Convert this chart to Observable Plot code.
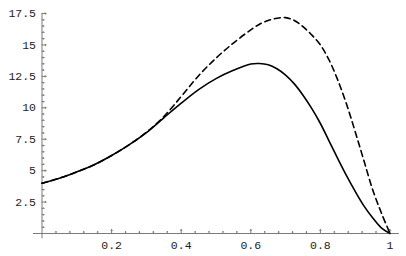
<!DOCTYPE html>
<html><head><meta charset="utf-8">
<script src="https://cdn.jsdelivr.net/npm/d3@7"></script>
<script src="https://cdn.jsdelivr.net/npm/@observablehq/plot@0.6"></script>
<style>html,body{margin:0;padding:0;background:#fff}</style>
</head><body><div id="chart"></div>
<script>
const xValues      = [0, 0.05, 0.1, 0.15, 0.2, 0.25, 0.3, 0.35, 0.4, 0.45, 0.5, 0.55, 0.6, 0.625, 0.65, 0.675, 0.7, 0.725, 0.75, 0.775, 0.8, 0.825, 0.85, 0.875, 0.9, 0.925, 0.95, 0.975, 1];
const solidValues  = [4.0, 4.4, 4.9, 5.47, 6.2, 7.05, 8.02, 9.2, 10.37, 11.45, 12.32, 12.98, 13.48, 13.52, 13.42, 13.1, 12.6, 11.9, 11.0, 9.95, 8.75, 7.35, 5.95, 4.6, 3.35, 2.2, 1.25, 0.45, 0];
const dashedValues = [4.0, 4.4, 4.9, 5.47, 6.2, 7.05, 8.05, 9.3, 10.9, 12.55, 13.95, 15.15, 16.2, 16.65, 16.95, 17.12, 17.17, 16.95, 16.45, 15.8, 15.0, 13.8, 12.2, 10.3, 8.1, 5.8, 3.5, 1.65, 0];
const xTickLabels  = [0.2, 0.4, 0.6, 0.8, 1];
const yTickLabels  = [2.5, 5, 7.5, 10, 12.5, 15, 17.5];

const solid  = xValues.map((x, i) => ({x, y: solidValues[i]}));
const dashed = xValues.map((x, i) => ({x, y: dashedValues[i]}));
const xMinor = d3.range(1, 26).map(i => i * 0.04).filter((d, i) => (i + 1) % 5 !== 0);
const yMinor = d3.range(1, 36).map(i => i * 0.5).filter((d, i) => (i + 1) % 5 !== 0);

const axisColor = "#7a7a7a";
const font = "'Liberation Mono', 'Courier New', monospace";

const chart = Plot.plot({
  width: 406, height: 256,
  marginLeft: 41.5, marginRight: 16.5, marginTop: 13, marginBottom: 23,
  x: {domain: [0, 1], axis: null},
  y: {domain: [0, 17.5], axis: null},
  style: {background: "#fff", overflow: "visible"},
  marks: [
    Plot.ruleY([0], {x1: -0.0245, x2: 1.027, stroke: axisColor, strokeWidth: 1}),
    Plot.ruleX([0], {y1: -0.42, y2: 17.5, stroke: axisColor, strokeWidth: 1}),
    Plot.vector(xTickLabels, {x: d => d, y: 0, length: 4, rotate: 0, anchor: "start", stroke: axisColor, strokeWidth: 1}),
    Plot.vector(xMinor, {x: d => d, y: 0, length: 2, rotate: 0, anchor: "start", stroke: axisColor, strokeWidth: 1}),
    Plot.vector(yTickLabels, {x: 0, y: d => d, length: 4, rotate: 90, anchor: "start", stroke: axisColor, strokeWidth: 1}),
    Plot.vector(yMinor, {x: 0, y: d => d, length: 2, rotate: 90, anchor: "start", stroke: axisColor, strokeWidth: 1}),
    Plot.text(yTickLabels, {x: 0, y: d => d, text: d => String(d), textAnchor: "end", dx: -6, fontFamily: font, fontSize: 11.5, fill: "#222"}),
    Plot.text(xTickLabels, {x: d => d, y: 0, text: d => String(d), dy: 12, fontFamily: font, fontSize: 11.5, fill: "#222"}),
    Plot.line(dashed, {x: "x", y: "y", stroke: "#000", strokeWidth: 1.6, strokeDasharray: "6,4", curve: "catmull-rom"}),
    Plot.line(solid, {x: "x", y: "y", stroke: "#000", strokeWidth: 1.6, curve: "catmull-rom"})
  ]
});
document.getElementById("chart").appendChild(chart);
</script>
</body></html>
